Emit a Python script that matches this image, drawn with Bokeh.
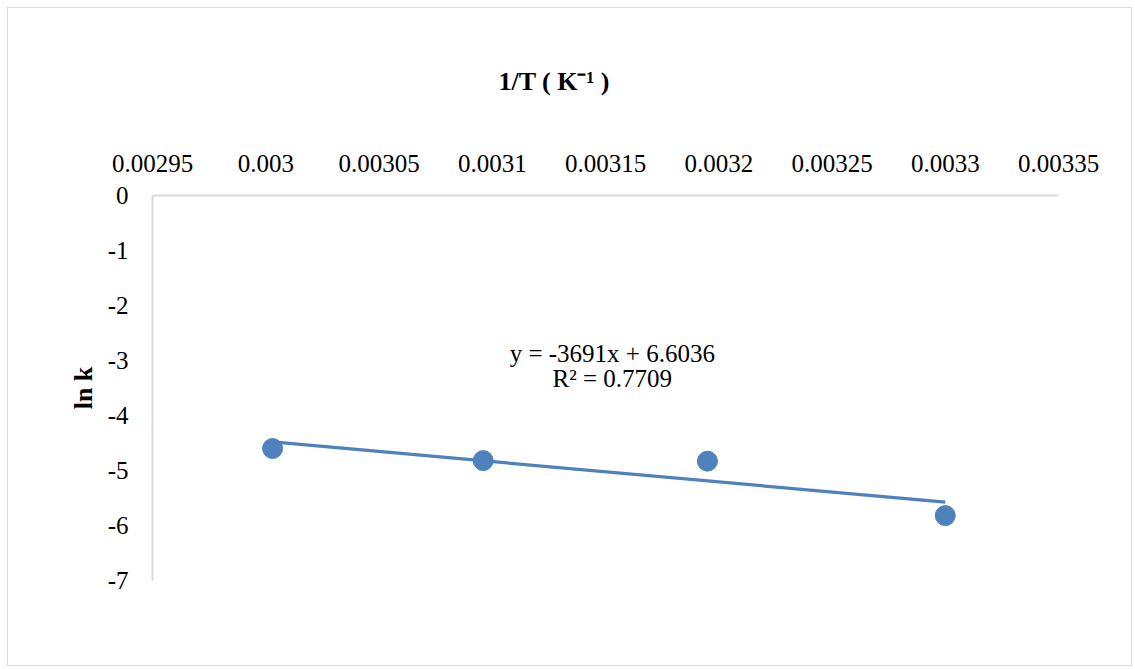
from bokeh.plotting import figure
from bokeh.models import Range1d, FixedTicker, Label, Title
from bokeh.embed import file_html
from bokeh.resources import INLINE

# ---- data ----
inv_T = [0.003003, 0.003096, 0.003195, 0.003300]
ln_k = [-4.60, -4.82, -4.83, -5.82]
slope = -3691.0
intercept = 6.6036
x_ticks = [0.00295, 0.003, 0.00305, 0.0031, 0.00315, 0.0032, 0.00325, 0.0033, 0.00335]
x_tick_labels = ["0.00295", "0.003", "0.00305", "0.0031", "0.00315", "0.0032", "0.00325", "0.0033", "0.00335"]
y_ticks = [0, -1, -2, -3, -4, -5, -6, -7]
y_tick_labels = ["0", "-1", "-2", "-3", "-4", "-5", "-6", "-7"]
eq_text = "y = -3691x + 6.6036"
r2_text = "R\u00b2 = 0.7709"
x_title = "1/T ( K\u207b\u00b9 )"
y_title = "ln k"

BLUE = "#4F81BD"
AXIS = "#D9D9D9"
FONT = "Liberation Serif"
W, H = 1125, 659

p = figure(width=W, height=H,
           x_range=Range1d(0.00295, 0.00335), y_range=Range1d(-7, 0),
           x_axis_location="above",
           output_backend="svg", toolbar_location=None,
           min_border_left=144, min_border_top=187,
           min_border_right=75, min_border_bottom=87)
p.styles = {"border": "1px solid #D9D9D9", "margin-left": "7px", "margin-top": "7px"}
p.outline_line_color = None
p.xgrid.visible = False
p.ygrid.visible = False
p.background_fill_color = "white"
p.border_fill_color = "white"

xa = p.xaxis[0]
xa.ticker = FixedTicker(ticks=x_ticks)
xa.major_label_overrides = dict(zip(x_ticks, x_tick_labels))
xa.major_tick_line_color = None
xa.minor_tick_line_color = None
xa.major_tick_out = 0
xa.major_label_standoff = 24
xa.axis_line_color = AXIS
xa.axis_line_width = 2
xa.major_label_text_font = FONT
xa.major_label_text_font_size = "25px"
xa.major_label_text_color = "black"

ya = p.yaxis[0]
ya.ticker = FixedTicker(ticks=y_ticks)
ya.major_label_overrides = dict(zip(y_ticks, y_tick_labels))
ya.major_tick_line_color = None
ya.minor_tick_line_color = None
ya.major_tick_out = 0
ya.major_label_standoff = 24
ya.axis_line_color = AXIS
ya.axis_line_width = 2
ya.major_label_text_font = FONT
ya.major_label_text_font_size = "25px"
ya.major_label_text_color = "black"
ya.axis_label = y_title
ya.axis_label_text_font = FONT
ya.axis_label_text_font_size = "26px"
ya.axis_label_text_font_style = "bold"
ya.axis_label_text_color = "black"
ya.axis_label_standoff = 7

# x-axis title above the top axis
p.add_layout(Title(text=x_title, align="left", offset=346, standoff=112,
                   text_font=FONT, text_font_size="26px", text_font_style="bold",
                   text_color="black"), "above")

# trendline from min to max x
x0, x1 = min(inv_T), max(inv_T)
p.line([x0, x1], [slope * x0 + intercept, slope * x1 + intercept],
       line_color=BLUE, line_width=3.2)
p.scatter(inv_T, ln_k, size=20, fill_color=BLUE, line_color=BLUE)

# equation labels
p.add_layout(Label(x=0.003153, y=-2.87, text=eq_text, text_align="center",
                   text_baseline="middle", text_font=FONT, text_font_size="25px",
                   text_color="black"))
p.add_layout(Label(x=0.003153, y=-3.33, text=r2_text, text_align="center",
                   text_baseline="middle", text_font=FONT, text_font_size="25px",
                   text_color="black"))

open("out.html", "w").write(file_html(p, INLINE))
